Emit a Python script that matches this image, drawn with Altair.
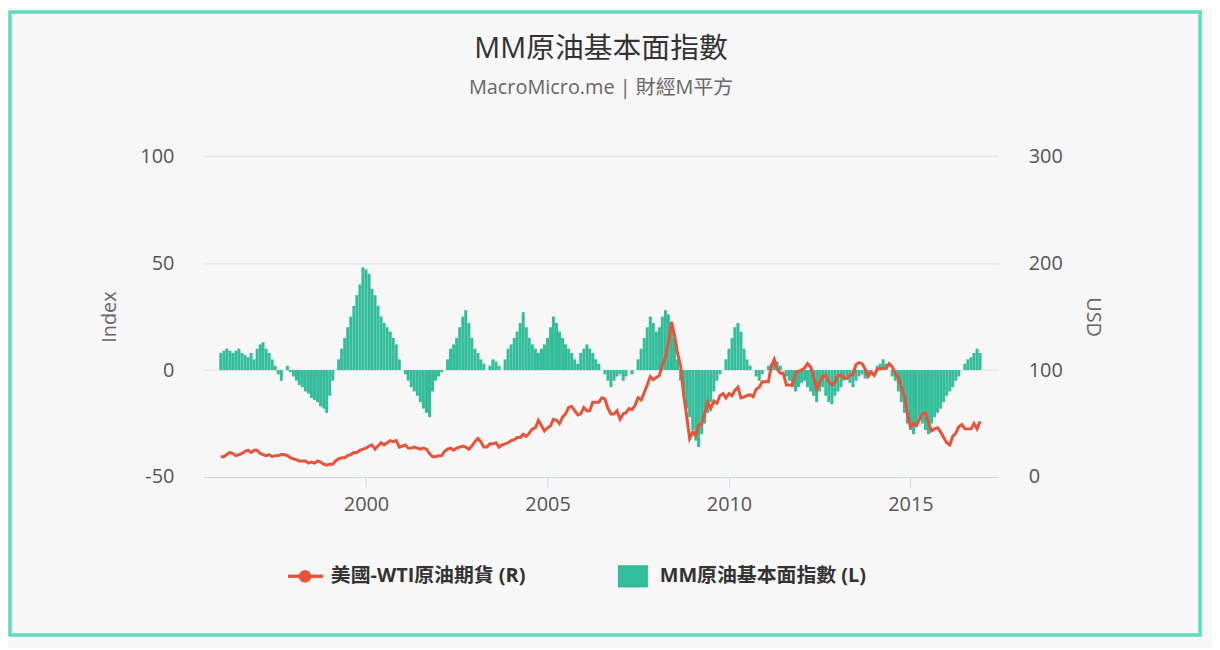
import pandas as pd
import altair as alt

# monthly values, Jan 1996 .. Dec 2016
mm_index = [
    8, 9, 10, 9, 8, 9, 10, 8, 7, 6, 8, 5,
    10, 12, 13, 10, 8, 5, 2, -2, -5, 0, 2, -1,
    -3, -5, -7, -8, -10, -11, -13, -14, -15, -17, -18, -20,
    -12, -5, 0, 5, 10, 15, 20, 25, 30, 35, 40, 48,
    47, 45, 38, 35, 30, 25, 22, 20, 18, 15, 12, 5,
    0, -2, -5, -8, -10, -12, -15, -18, -20, -22, -10, -5,
    -3, -1, 0, 5, 10, 12, 15, 20, 25, 28, 22, 15,
    10, 8, 5, 3, 0, 2, 5, 4, 2, 0, 5, 10,
    12, 15, 18, 22, 27, 20, 15, 12, 10, 8, 10, 12,
    15, 20, 25, 22, 18, 15, 12, 10, 8, 5, 3, 8,
    10, 12, 10, 8, 5, 3, 0, -2, -5, -8, -5, -3,
    -2, -5, -3, 0, -2, 0, 5, 10, 15, 20, 25, 22,
    18, 20, 25, 28, 26, 22, 15, 5, -5, -12, -18, -22,
    -28, -33, -36, -30, -25, -20, -15, -10, -5, -2, 0, 5,
    10, 15, 20, 22, 18, 10, 5, 2, 0, -3, -5, -2,
    0, 2, 3, 5, 4, 2, 0, -3, -5, -8, -10, -8,
    -6, -5, -8, -10, -12, -15, -10, -8, -12, -15, -16, -12,
    -10, -8, -5, -3, -6, -8, -5, -3, -2, -4, -3, -2,
    0, 2, 3, 5, 3, 0, -3, -5, -10, -15, -20, -25,
    -28, -30, -25, -22, -25, -28, -30, -25, -22, -20, -18, -15,
    -12, -10, -8, -5, -3, 0, 3, 5, 6, 8, 10, 8,
]
wti = [
    19, 19, 21, 23, 22, 20, 21, 22, 24, 25, 23, 25,
    25, 22, 21, 20, 21, 19, 20, 20, 21, 21, 20, 18,
    17, 16, 15, 15, 15, 13, 14, 13, 15, 14, 12, 11,
    12, 12, 15, 17, 18, 18, 20, 21, 23, 23, 25, 26,
    27, 29, 30, 26, 29, 32, 30, 32, 34, 33, 34, 28,
    29, 30, 27, 27, 28, 27, 26, 27, 26, 22, 19, 19,
    20, 20, 24, 26, 27, 25, 27, 28, 29, 28, 26, 29,
    33, 36, 33, 28, 28, 31, 31, 32, 28, 30, 31, 32,
    34, 35, 37, 37, 40, 38, 41, 45, 46, 53, 48, 43,
    46, 48, 54, 53, 50, 56, 59, 65, 66, 62, 58, 59,
    65, 62, 62, 70, 70, 70, 74, 73, 64, 59, 59, 62,
    54, 59, 60, 64, 63, 67, 74, 72, 79, 86, 94, 91,
    93, 95, 105, 112, 125, 145, 133, 116, 104, 77, 57, 36,
    42, 39, 48, 50, 59, 70, 64, 71, 69, 76, 78, 74,
    78, 76, 81, 84, 74, 75, 76, 77, 75, 82, 84, 89,
    89, 89, 103, 110, 101, 97, 97, 86, 86, 86, 97, 99,
    100, 102, 106, 103, 94, 82, 88, 94, 95, 89, 86, 88,
    95, 95, 93, 92, 95, 96, 105, 107, 106, 101, 94, 98,
    95, 101, 101, 102, 102, 106, 103, 97, 93, 84, 76, 59,
    47, 50, 48, 54, 59, 60, 51, 43, 45, 46, 42, 37,
    32, 30, 38, 41, 47, 49, 45, 45, 45, 50, 45, 52,
]
dates = pd.date_range("1996-01-01", periods=len(wti), freq="MS")

GREEN = "#33bd9a"
RED = "#e8533a"
FONT = "Open Sans, Noto Sans CJK TC"
W, H = 800, 323

df = pd.DataFrame({"date": dates, "idx": mm_index, "wti": wti})

x = alt.X("date:T", title=None,
          scale=alt.Scale(domain=["1995-09-01", "2017-04-15"]),
          axis=alt.Axis(format="%Y", tickCount=alt.TimeIntervalStep(interval="year", step=5),
                        grid=False, labelFontSize=20, labelColor="#555", labelPadding=8,
                        domainColor="#ccd6eb", tickColor="#ccd6eb", tickSize=10))

bars = alt.Chart(df).mark_bar(color=GREEN, width=3).encode(
    x=x,
    y=alt.Y("idx:Q", title="Index", scale=alt.Scale(domain=[-50, 100]),
            axis=alt.Axis(values=[-50, 0, 50, 100], labelExpr="datum.value",
                          labelFontSize=20, labelColor="#555",
                          titleFontSize=20, titleColor="#666", titleFontWeight="normal",
                          titlePadding=20, gridColor="#dde0e3", domain=False, ticks=False,
                          labelPadding=30)),
)

line = alt.Chart(df).mark_line(color=RED, strokeWidth=3).encode(
    x=x,
    y=alt.Y("wti:Q", title="USD", scale=alt.Scale(domain=[0, 300]),
            axis=alt.Axis(orient="right", values=[0, 100, 200, 300], grid=False,
                          labelFontSize=20, labelColor="#555", titleFontSize=20,
                          titleColor="#666", titleFontWeight="normal", titleAngle=90,
                          titlePadding=20, domain=False, ticks=False, labelPadding=30)),
)

legend_df = pd.DataFrame({
    "label": ["美國-WTI原油期貨 (R)", "MM原油基本面指數 (L)"],
    "tx": [128, 459],
})
leg_text = alt.Chart(legend_df).mark_text(
    align="left", baseline="middle", fontSize=20, fontWeight="bold", color="#333", font=FONT
).encode(x=alt.X("tx:Q", scale=None), y=alt.value(423), text="label:N")
leg_line = alt.Chart(legend_df).mark_rule(color=RED, strokeWidth=3).encode(
    x=alt.value(85), x2=alt.value(120), y=alt.value(423))
leg_dot = alt.Chart(legend_df).mark_point(filled=True, color=RED, size=150, opacity=1).encode(
    x=alt.value(102), y=alt.value(423))
leg_sq = alt.Chart(legend_df).mark_rect(color=GREEN).encode(
    x=alt.value(417), x2=alt.value(447), y=alt.value(412), y2=alt.value(434))
frame = alt.Chart(legend_df).mark_rect(fill=None, stroke="#5ddcc2", strokeWidth=3).encode(
    x=alt.value(-195), x2=alt.value(1003), y=alt.value(-145), y2=alt.value(482))

chart = (
    alt.layer(bars, line).resolve_scale(y="independent")
    + leg_line + leg_dot + leg_sq + leg_text + frame
).properties(
    width=W, height=H,
    view=alt.ViewBackground(stroke=None, strokeWidth=0),
    autosize=alt.AutoSizeParams(type="none"),
    padding={"left": 197, "top": 147, "right": 215, "bottom": 170},
    background="#f7f7f7",
    title=alt.TitleParams("MM原油基本面指數", subtitle="MacroMicro.me | 財經M平方",
                          fontSize=29, fontWeight="normal", color="#333",
                          subtitleFontSize=20, subtitleColor="#666", subtitlePadding=14,
                          offset=-88, anchor="middle", font=FONT, subtitleFont=FONT),
).configure_view(strokeOpacity=0, strokeWidth=0).configure(font=FONT)

chart.save("out.html", embed_options={"renderer": "svg", "actions": False})
